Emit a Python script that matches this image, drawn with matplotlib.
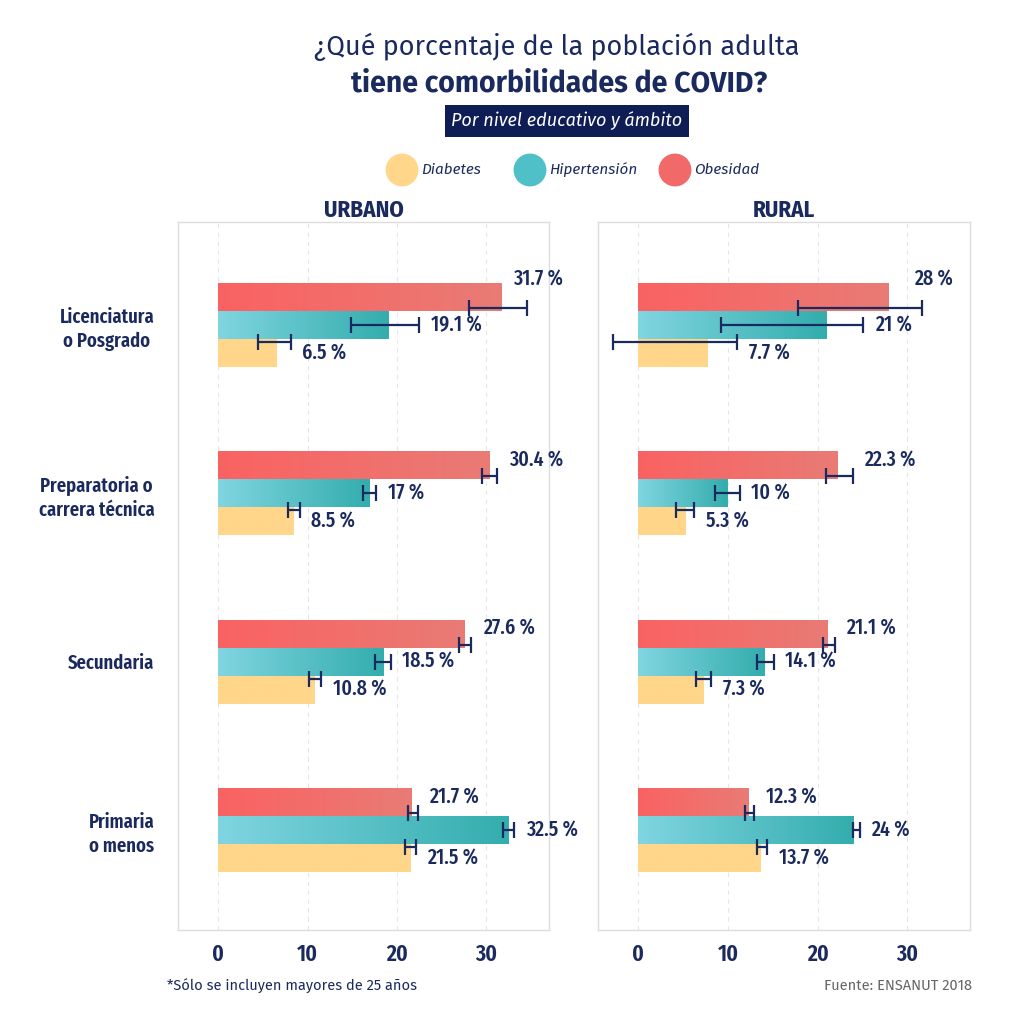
import numpy as np
import matplotlib
matplotlib.use("Agg")
import matplotlib.pyplot as plt
from matplotlib import font_manager as fm
from matplotlib.colors import LinearSegmentedColormap

# datos (ENSANUT 2018)
niveles = ["Licenciatura\no Posgrado", "Preparatoria o\ncarrera técnica", "Secundaria", "Primaria\no menos"]
enfermedades = ["Diabetes", "Hipertensión", "Obesidad"]
ticks_x = [0, 10, 20, 30]

urb_obesidad = [31.7, 30.4, 27.6, 21.7]
urb_hiper = [19.1, 17.0, 18.5, 32.5]
urb_diab = [6.5, 8.5, 10.8, 21.5]
rur_obesidad = [28.0, 22.3, 21.1, 12.3]
rur_hiper = [21.0, 10.0, 14.1, 24.0]
rur_diab = [7.7, 5.3, 7.3, 13.7]

# intervalos de confianza (inferior, superior)
urb_obesidad_ic = ([28.1, 29.5, 26.9, 21.2], [34.5, 31.2, 28.3, 22.3])
urb_hiper_ic = ([14.9, 16.2, 17.5, 31.9], [22.5, 17.7, 19.3, 33.1])
urb_diab_ic = ([4.5, 7.8, 10.2, 20.9], [8.1, 9.1, 11.5, 22.1])
rur_obesidad_ic = ([17.8, 20.9, 20.6, 11.9], [31.6, 23.9, 21.9, 12.9])
rur_hiper_ic = ([9.2, 8.6, 13.2, 23.9], [25.1, 11.3, 15.1, 24.7])
rur_diab_ic = ([-2.8, 4.2, 6.4, 13.2], [11.0, 6.2, 8.1, 14.4])

installed = {f.name for f in fm.fontManager.ttflist}


def pick(fams):
    return [f for f in fams if f in installed] + ["DejaVu Sans"]


NAVY = "#1b2a5e"
COND = pick(["Fira Sans Extra Condensed", "Roboto Condensed", "Liberation Sans Narrow"])
COND2 = pick(["Fira Sans Condensed", "Roboto Condensed", "Liberation Sans Narrow"])
SANS = pick(["Fira Sans", "Noto Sans"])

cmap_ob = LinearSegmentedColormap.from_list("ob", ["#fa6262", "#e97b75"])
cmap_hi = LinearSegmentedColormap.from_list("hi", ["#80d5e1", "#33adad"])
cmap_di = LinearSegmentedColormap.from_list("di", ["#ffd68a", "#ffd68a"])

fig = plt.figure(figsize=(10.24, 10.17), dpi=100)

h = 0.166


def panel(ax, ob, hi, di, ics, title, show_y):
    y = np.arange(len(niveles))
    series = [(ob, ics[0], -h, -0.1, cmap_ob), (hi, ics[1], 0, 0, cmap_hi), (di, ics[2], h, 0.1, cmap_di)]
    grad = np.linspace(0, 1, 256).reshape(1, -1)
    for k, (vals, ic, off, eoff, cm) in enumerate(series):
        bars = ax.barh(y + off, vals, height=h, color="none", edgecolor="none", zorder=2)
        for b, v in zip(bars, vals):
            im = ax.imshow(grad, extent=[0, v, b.get_y() + h, b.get_y()], cmap=cm,
                           aspect="auto", zorder=2, interpolation="bilinear")
            im.set_clip_path(b)
        lo, up = np.array(ic[0]), np.array(ic[1])
        cen = (lo + up) / 2
        ax.errorbar(cen, y + eoff, xerr=(up - lo) / 2, fmt="none", ecolor=NAVY,
                    elinewidth=1.6, capsize=6, capthick=1.6, zorder=3)
        for i, v in enumerate(vals):
            txt = f"{v:g} %"
            if k == 0 and i == 0:
                ax.text(up[i] + 1.3, y[i] + off - h / 2 - 0.02, txt, ha="center", va="center",
                        fontsize=15.5, color=NAVY, family=COND, fontweight="medium", zorder=4)
            else:
                ax.text(up[i] + 1.3, y[i] + off - (0.03 if k == 0 else 0), txt, ha="left", va="center",
                        fontsize=15.5, color=NAVY, family=COND, fontweight="medium", zorder=4)
    ax.set_xlim(-4.5, 37)
    ax.set_ylim(3.593, -0.611)
    ax.set_xticks(ticks_x)
    ax.set_xticklabels([str(t) for t in ticks_x], fontsize=17, color=NAVY, family=COND, fontweight="semibold")
    ax.set_yticks(np.arange(len(niveles)))
    if show_y:
        ax.set_yticklabels(niveles, fontsize=14.5, color=NAVY, family=COND, fontweight="semibold",
                           multialignment="center", linespacing=1.3)
    else:
        ax.set_yticklabels([])
    ax.tick_params(length=0, pad=9)
    ax.tick_params(axis="y", pad=17)
    ax.grid(axis="x", color="#e6e6e6", linestyle=(0, (4, 4)), linewidth=0.8, zorder=0)
    for s in ax.spines.values():
        s.set_color("#dddddd")
        s.set_linewidth(1)
    ax.set_title(title, fontsize=16.5, color=NAVY, family=COND2, fontweight="bold", pad=3)


ax1 = fig.add_axes([178 / 1024, 1 - 930 / 1017, 371 / 1024, 708 / 1017])
ax2 = fig.add_axes([598 / 1024, 1 - 930 / 1017, 372 / 1024, 708 / 1017])
panel(ax1, urb_obesidad, urb_hiper, urb_diab, (urb_obesidad_ic, urb_hiper_ic, urb_diab_ic), "URBANO", True)
panel(ax2, rur_obesidad, rur_hiper, rur_diab, (rur_obesidad_ic, rur_hiper_ic, rur_diab_ic), "RURAL", False)

# titulo
fig.text(557 / 1024, 1 - 47 / 1017, "¿Qué porcentaje de la población adulta", ha="center", va="center",
         fontsize=19.5, color=NAVY, family=SANS)
fig.text(559 / 1024, 1 - 84 / 1017, "tiene comorbilidades de COVID?", ha="center", va="center",
         fontsize=20.5, color=NAVY, family=SANS, fontweight="bold")
fig.text(567 / 1024, 1 - 121 / 1017, "Por nivel educativo y ámbito", ha="center", va="center",
         fontsize=13, color="white", family=SANS, style="italic",
         bbox=dict(boxstyle="square,pad=0.35", facecolor="#0f1d55", edgecolor="none"))

# leyenda
lax = fig.add_axes([0, 0, 1, 1], facecolor="none")
lax.set_xlim(0, 1024)
lax.set_ylim(1017, 0)
lax.axis("off")
ley_x = [402, 530, 675]
ley_col = ["#ffd68a", "#4fc0c8", "#f2696a"]
for xx, c, lab in zip(ley_x, ley_col, enfermedades):
    lax.scatter([xx], [170], s=560, color=c, edgecolors="none")
    lax.text(xx + 19, 170, lab, ha="left", va="center", fontsize=11, color=NAVY,
             family=SANS, style="italic")

fig.text(167 / 1024, 1 - 986 / 1017, "*Sólo se incluyen mayores de 25 años", ha="left", va="center",
         fontsize=10.5, color=NAVY, family=SANS)
fig.text(972 / 1024, 1 - 986 / 1017, "Fuente: ENSANUT 2018", ha="right", va="center",
         fontsize=10.5, color="#666666", family=SANS)

fig.savefig("out.png", dpi=100)
